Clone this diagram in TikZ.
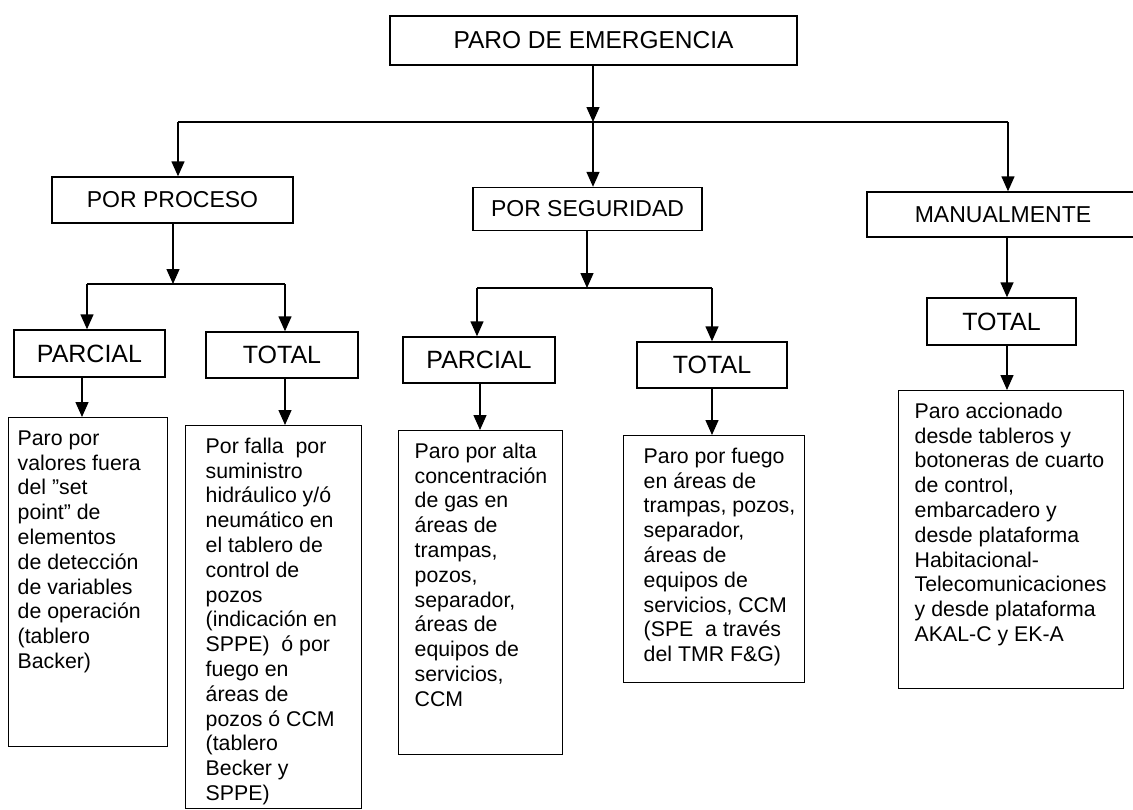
\documentclass[tikz,border=0pt]{standalone}
\usepackage{fontspec}
\setmainfont{Liberation Sans}
\usetikzlibrary{arrows.meta}

% description text: width, height, left padding, lines
\newcommand\desctext[4]{\parbox[c][#2][t]{#1}{\raggedright\leftskip=#3\relax
  \fontsize{21.3}{24.8}\selectfont\rule{0pt}{27.5pt}#4}}

\begin{document}
\begin{tikzpicture}[x=1pt,y=-1pt,
  box/.style={draw, line width=1.4pt, inner sep=0pt, minimum height=46pt},
  lvone/.style={box, font=\fontsize{23}{27}\selectfont},
  lvtwo/.style={box, font=\fontsize{25}{29}\selectfont},
  desc/.style={draw, line width=1.4pt, inner sep=0pt, anchor=north west},
  ln/.style={line width=1.4pt},
  arr/.style={line width=1.4pt, -{Triangle[width=13pt,length=15pt]}},
]
\useasboundingbox (0,0) rectangle (1133,809);

% top
\node[box, minimum width=407pt, minimum height=49pt,
      font=\fontsize{24.5}{28}\selectfont] (top) at (593.5,40.5) {PARO DE EMERGENCIA};

% first level
\node[lvone, minimum width=241pt] (pp) at (172.5,200) {POR PROCESO};
\node[lvone, minimum width=229pt, minimum height=43pt] (ps) at (587.5,209) {POR SEGURIDAD};
\node[lvone, minimum width=272pt, minimum height=45pt] (man) at (1003,214.5) {MANUALMENTE};

% second level
\node[lvtwo, minimum width=151pt, minimum height=47pt] (parL) at (89.5,353.5) {PARCIAL};
\node[lvtwo, minimum width=152pt] (totL) at (282,355) {TOTAL};
\node[lvtwo, minimum width=152pt] (parM) at (479,360) {PARCIAL};
\node[lvtwo, minimum width=150pt] (totM) at (712,365) {TOTAL};
\node[lvtwo, minimum width=149pt, minimum height=47pt] (totR) at (1001.5,321.5) {TOTAL};

% descriptions
\node[desc] (b1) at (8,417) {\desctext{159pt}{329pt}{9pt}{%
Paro por\\valores fuera\\del "set\\point" de\\elementos\\de detección\\de variables\\de operación\\(tablero\\Backer)}};
\node[desc] (b2) at (185,425) {\desctext{176pt}{383pt}{20pt}{%
Por falla\ \ por\\suministro\\hidráulico y/ó\\neumático en\\el tablero de\\control de\\pozos\\(indicación en\\SPPE)\ \ ó por\\fuego en\\áreas de\\pozos ó CCM\\(tablero\\Becker y\\SPPE)}};
\node[desc] (b3) at (398,430) {\desctext{164pt}{324pt}{16pt}{%
Paro por alta\\concentración\\de gas en\\áreas de\\trampas,\\pozos,\\separador,\\áreas de\\equipos de\\servicios,\\CCM}};
\node[desc] (b4) at (623,435) {\desctext{181pt}{247pt}{20pt}{%
Paro por fuego\\en áreas de\\trampas, pozos,\\separador,\\áreas de\\equipos de\\servicios, CCM\\(SPE\ \ a través\\del TMR F\&G)}};
\node[desc] (b5) at (898,390) {\desctext{225pt}{298pt}{16pt}{%
Paro accionado\\desde tableros y\\botoneras de cuarto\\de control,\\embarcadero y\\desde plataforma\\Habitacional-\\Telecomunicaciones\\y desde plataforma\\AKAL-C y EK-A}};

% top distribution
\coordinate (j)  at (593,122);
\coordinate (jl) at (178,122);
\coordinate (jr) at (1008,122);
\draw[arr] (j |- top.south) -- (j);
\draw[ln] (jl) -- (jr);
\draw[arr] (jl) -- (jl |- pp.north);
\draw[arr] (j) -- (j |- ps.north);
\draw[arr] (jr) -- (jr |- man.north);

% process branch
\coordinate (bl)  at (173,284);
\coordinate (blp) at (87,284);
\coordinate (blt) at (285,284);
\draw[arr] (bl |- pp.south) -- (bl);
\draw[ln] (blp) -- (blt);
\draw[arr] (blp) -- (blp |- parL.north);
\draw[arr] (blt) -- (blt |- totL.north);

% safety branch
\coordinate (bm)  at (587,288);
\coordinate (bmp) at (477,288);
\coordinate (bmt) at (712,288);
\draw[arr] (bm |- ps.south) -- (bm);
\draw[ln] (bmp) -- (bmt);
\draw[arr] (bmp) -- (bmp |- parM.north);
\draw[arr] (bmt) -- (bmt |- totM.north);

% manual branch
\coordinate (cr) at (1007,0);
\draw[arr] (cr |- man.south) -- (cr |- totR.north);
\draw[arr] (cr |- totR.south) -- (cr |- b5.north);

% into the descriptions
\coordinate (c1) at (82,0);
\coordinate (c2) at (285,0);
\coordinate (c3) at (480,0);
\coordinate (c4) at (712,0);
\draw[arr] (c1 |- parL.south) -- (c1 |- b1.north);
\draw[arr] (c2 |- totL.south) -- (c2 |- b2.north);
\draw[arr] (c3 |- parM.south) -- (c3 |- b3.north);
\draw[arr] (c4 |- totM.south) -- (c4 |- b4.north);
\end{tikzpicture}
\end{document}
